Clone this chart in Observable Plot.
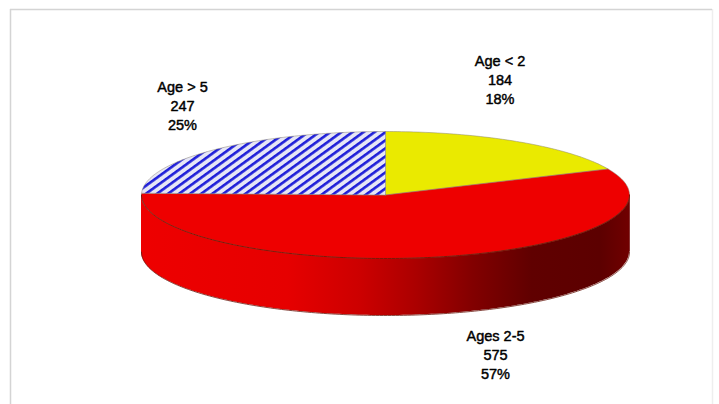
<!DOCTYPE html>
<html><head><meta charset="utf-8">
<style>html,body{margin:0;padding:0;background:#fff}svg{display:block}</style>
<script src="https://cdn.jsdelivr.net/npm/d3@7"></script>
<script src="https://cdn.jsdelivr.net/npm/@observablehq/plot@0.6"></script>
</head><body><div id="chart"></div>
<script>
const names = ["Age < 2", "Ages 2-5", "Age > 5"];
const counts = [184, 575, 247];
const percents = ["18%", "57%", "25%"];
const fills = ["#eaea00", "#ee0000", "url(#hatch)"];
const labelX = [499.5, 495, 182];
const labelY = [78, 353, 104.5];

const W = 719, H = 404;
const cx = 385, cy = 194.5, rx = 244, ry = 63.5, depth = 57;
const total = d3.sum(counts);
const px = a => cx + rx * Math.sin(a);
const py = a => cy - ry * Math.cos(a);
const arcPts = (a0, a1) => {
  const n = Math.max(2, Math.ceil((a1 - a0) * 60));
  return d3.range(n + 1).map(i => a0 + (a1 - a0) * i / n);
};

let acc = 0;
const slices = counts.map((c, i) => {
  const a0 = acc / total * 2 * Math.PI;
  acc += c;
  const a1 = acc / total * 2 * Math.PI;
  const pts = [{x: cx, y: cy}, ...arcPts(a0, a1).map(a => ({x: px(a), y: py(a)}))];
  pts.push(pts[0]);
  return {name: names[i], fill: fills[i], pts};
});

const front = arcPts(Math.PI / 2, 3 * Math.PI / 2).map(a => ({
  x: px(a), top: py(a), bottom: py(a) + depth
}));

const labels = names.map((n, i) => ({
  text: `${n}\n${counts[i]}\n${percents[i]}`, x: labelX[i], y: labelY[i]
}));

const svg = Plot.plot({
  width: W, height: H,
  margin: 0,
  x: {axis: null, domain: [0, W], range: [0, W]},
  y: {axis: null, domain: [0, H], range: [0, H]},
  marks: [
    Plot.ruleX([10], {y1: 9, y2: H, stroke: "#d4d4d4", strokeWidth: 1.5}),
    Plot.ruleX([712], {y1: 9, y2: H, stroke: "#eeeeee", strokeWidth: 1.5}),
    Plot.ruleY([9], {x1: 10, x2: 712, stroke: "#d4d4d4", strokeWidth: 1.5}),
    Plot.area(front, {x1: "x", y1: "top", y2: "bottom", fill: "url(#side)"}),
    Plot.line(front, {x: "x", y: "bottom", stroke: "#6a1a10", strokeWidth: 0.8}),
    Plot.ruleX([front[0].x, front[front.length - 1].x], {y1: cy, y2: cy + depth, stroke: d => d < cx ? "#ee0000" : "#6a0000", strokeWidth: 0.8}),
    ...slices.map(s => Plot.line(s.pts, {x: "x", y: "y", fill: s.fill, stroke: "#8a8470", strokeWidth: 0.5})),
    Plot.line(front, {x: "x", y: "top", stroke: "#7a1000", strokeWidth: 0.9}),
    Plot.text(labels, {
      x: "x", y: "y", text: "text", textAnchor: "middle", lineHeight: 1.31,
      fontFamily: "Liberation Sans", fontSize: 14.5, fill: "#000", stroke: "#000", strokeWidth: 0.45
    })
  ]
});

const defs = d3.select(svg).insert("defs", ":first-child");
const hatch = defs.append("pattern").attr("id", "hatch")
  .attr("patternUnits", "userSpaceOnUse").attr("width", 6.5).attr("height", 6.5)
  .attr("patternTransform", "rotate(-36)");
hatch.append("rect").attr("width", 6.5).attr("height", 6.5).attr("fill", "#e6e6f6");
hatch.append("rect").attr("width", 6.5).attr("height", 2.6).attr("fill", "#1f1fd8");
const side = defs.append("linearGradient").attr("id", "side")
  .attr("gradientUnits", "userSpaceOnUse")
  .attr("x1", cx - rx).attr("x2", cx + rx).attr("y1", 0).attr("y2", 0);
[[0, "#ee0000"], [0.3, "#e60000"], [0.45, "#cc0000"], [0.56, "#ac0000"], [0.68, "#820000"], [0.8, "#600000"], [0.94, "#5c0000"], [1, "#700000"]]
  .forEach(([o, c]) => side.append("stop").attr("offset", o).attr("stop-color", c));

document.getElementById("chart").append(svg);
</script></body></html>
